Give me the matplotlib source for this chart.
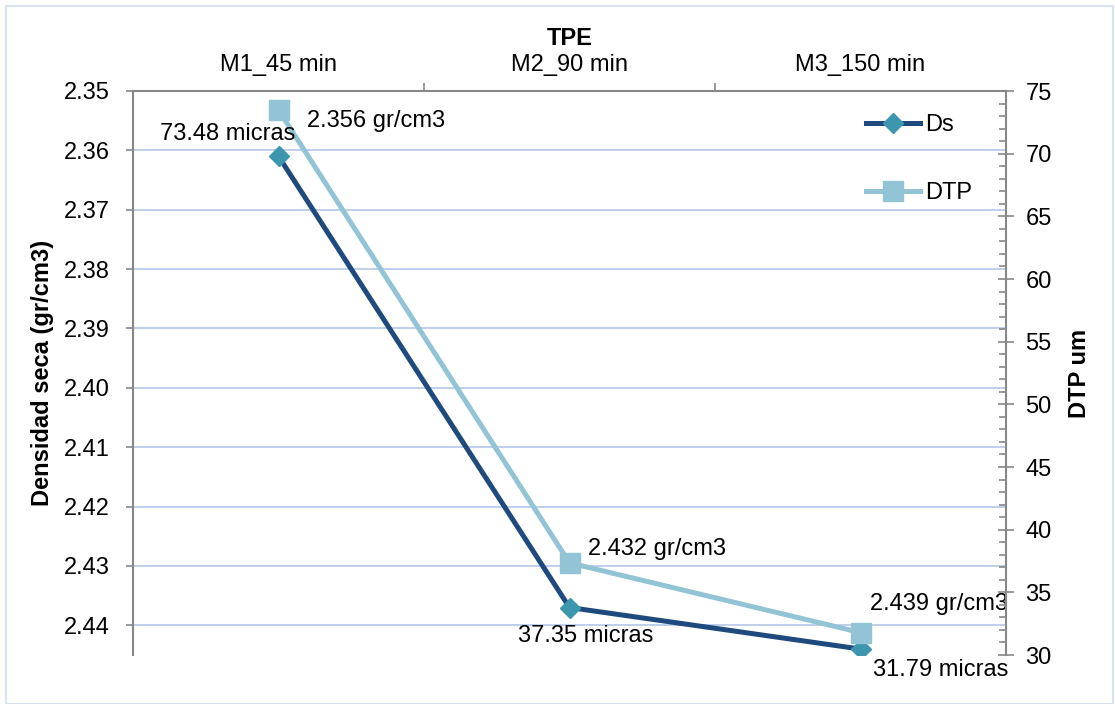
import matplotlib.pyplot as plt
from matplotlib.patches import Rectangle

plt.rcParams['font.family'] = ['Liberation Sans', 'DejaVu Sans']

# Tiempo de proceso (TPE) por muestra
muestras = ["M1_45 min", "M2_90 min", "M3_150 min"]
densidad_seca = [2.356, 2.432, 2.439]   # gr/cm3
dtp = [73.48, 37.35, 31.79]             # micras

ticks_ds = [2.345 + 0.01 * k for k in range(10)]
etiquetas_ds = ["2.35", "2.36", "2.37", "2.38", "2.39", "2.40", "2.41", "2.42", "2.43", "2.44"]
ticks_dtp = [30, 35, 40, 45, 50, 55, 60, 65, 70, 75]

c_ds = "#1f4a7e"
c_ds_mk = "#3c96ad"
c_dtp = "#92c4d5"
c_eje = "#878787"
c_grid = "#b4c7e7"
fs = 17

W, H = 1115, 704
fig = plt.figure(figsize=(W / 100, H / 100), dpi=100)
fig.patches.append(Rectangle((6 / W, 0), 1 - 8 / W, 1 - 6 / H, transform=fig.transFigure,
                             fill=False, edgecolor="#d9e2f3", linewidth=1.5))

ax = fig.add_axes([133 / W, (H - 655) / H, (1006 - 133) / W, (655 - 91) / H])
ax2 = ax.twinx()

x = list(range(len(muestras)))

# eje izquierdo: densidad seca (invertido)
ax.set_xlim(-0.5, len(muestras) - 0.5)
ax.set_ylim(2.44, 2.345)
ax.set_yticks(ticks_ds)
ax.set_yticklabels(etiquetas_ds, fontsize=fs)
for t in ticks_ds[1:]:
    ax.axhline(t, color=c_grid, linewidth=1.2, zorder=0)

ax.xaxis.tick_top()
ax.set_xticks(x)
ax.set_xticklabels(muestras, fontsize=fs)
ax.set_xticks([0.5, 1.5], minor=True)
ax.tick_params(axis="x", which="major", length=0, pad=11)
ax.tick_params(axis="x", which="minor", length=6, color=c_eje, width=1.2, direction="out")
ax.tick_params(axis="y", length=5, color=c_eje, width=1.2, pad=12)
ax.xaxis.set_label_position("top")
ax.set_xlabel("TPE", fontsize=fs, fontweight="bold", labelpad=6)
ax.set_ylabel("Densidad seca (gr/cm3)", fontsize=fs, fontweight="bold", labelpad=7)

for s in ["bottom", "right"]:
    ax.spines[s].set_visible(False)
for s in ["top", "left"]:
    ax.spines[s].set_color(c_eje)
    ax.spines[s].set_linewidth(1.5)

# eje derecho: DTP
ax2.set_ylim(30, 75)
ax2.set_yticks(ticks_dtp)
ax2.set_yticklabels([str(v) for v in ticks_dtp], fontsize=fs)
ax2.set_yticks(range(30, 76), minor=True)
ax2.tick_params(axis="y", which="major", direction="inout", length=12, color=c_eje, width=1.2, pad=8)
ax2.tick_params(axis="y", which="minor", direction="in", length=5, color=c_eje, width=1.2)
ax2.set_ylabel("DTP um", fontsize=fs, fontweight="bold", labelpad=12)
for s in ["bottom", "left", "top"]:
    ax2.spines[s].set_visible(False)
ax2.spines["right"].set_color(c_eje)
ax2.spines["right"].set_linewidth(1.5)

l1, = ax.plot(x, densidad_seca, color=c_ds, linewidth=3.6, marker="D", markersize=10,
              markerfacecolor=c_ds_mk, markeredgecolor=c_ds_mk, label="Ds", zorder=3)
l2, = ax2.plot(x, dtp, color=c_dtp, linewidth=3.6, marker="s", markersize=14,
               markerfacecolor=c_dtp, markeredgecolor=c_dtp, label="DTP", zorder=3)

# etiquetas de datos
off_ds = [(98, 35), (88, 59), (78, 45)]
off_dtp = [(-51, -24), (16, -73), (80, -37)]
for i in x:
    ax.annotate(f"{densidad_seca[i]:.3f} gr/cm3", (i, densidad_seca[i]), xytext=off_ds[i],
                textcoords="offset pixels", ha="center", va="center", fontsize=fs)
    ax2.annotate(f"{dtp[i]:.2f} micras", (i, dtp[i]), xytext=off_dtp[i],
                 textcoords="offset pixels", ha="center", va="center", fontsize=fs)

fig.legend([l1, l2], ["Ds", "DTP"], loc="upper left", bbox_to_anchor=(866 / W, 1 - 114 / H),
           bbox_transform=fig.transFigure, frameon=False, fontsize=fs, handlelength=2.3,
           handletextpad=0.2, labelspacing=1.95, borderpad=0, borderaxespad=0)

fig.savefig("out.png", dpi=100)
